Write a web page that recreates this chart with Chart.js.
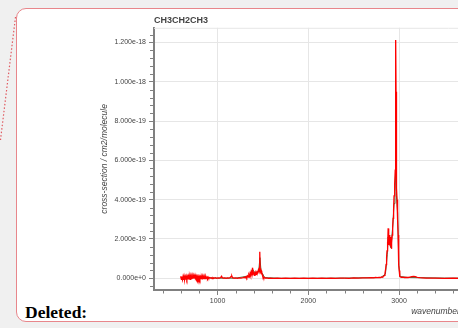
<!DOCTYPE html>
<html>
<head>
<meta charset="utf-8">
<script src="https://cdn.jsdelivr.net/npm/chart.js@4/dist/chart.umd.min.js"></script>
<style>
  html, body { margin: 0; padding: 0; width: 458px; height: 328px; overflow: hidden; background: #f0f0f0; }
  #card { position: absolute; left: 16px; top: 8px; width: 700px; height: 314px; box-sizing: border-box;
          border: 1.5px solid #e8868b; border-radius: 10px; background: #ffffff; }
  #dots { position: absolute; left: 0; top: 0; }
  #deleted { position: absolute; left: 25px; top: 304px; font: bold 17.5px "Liberation Serif", "Times New Roman", serif;
             line-height: 17.5px; color: #000; white-space: nowrap; }
  #wrap { position: absolute; left: 0; top: 0; width: 760px; height: 328px; }
</style>
</head>
<body>
<svg id="dots" width="20" height="150"><line x1="15.5" y1="17" x2="0.5" y2="140" stroke="#e05a61" stroke-width="1.2" stroke-dasharray="1.5,2"/></svg>
<div id="card"></div>
<div id="deleted">Deleted:</div>
<div id="wrap"><canvas id="c" width="760" height="328"></canvas></div>
<script>
// ---- data (cross-section values in units of 1e-20 cm2/molecule) ----
const TITLE = 'CH3CH2CH3';
const X_LABEL = 'wavenumber / cm-1';
const Y_LABEL = 'cross-section / cm2/molecule';
const Y_UNIT = 1e-20;

const wavenumbersRed = [
  590,596,602,608,614,620,626,632,638,644,650,656,662,668,674,680,686,692,698,704,
  710,716,722,728,734,740,746,752,758,764,770,776,782,788,794,800,806,812,818,824,
  830,836,842,848,854,860,866,872,878,884,890,896,902,910,920,930,940,950,960,975,
  990,1005,1020,1035,1045,1052,1065,1080,1095,1110,1125,1140,1150,1158,1165,1180,1200,1220,1240,1260,
  1280,1295,1305,1315,1322,1330,1337,1345,1352,1358,1364,1370,1376,1381,1385,1388,1392,1396,1400,1405,
  1410,1415,1420,1425,1430,1435,1440,1445,1450,1455,1460,1464,1467,1470,1474,1478,1482,1487,1492,1497,
  1502,1508,1515,1525,1540,1560,1580,1620,1660,1700,1750,1800,1850,1900,1950,2000,2050,2100,2150,2200,
  2250,2300,2350,2400,2450,2500,2550,2600,2650,2700,2720,2740,2760,2780,2795,2810,2820,2830,2838,2845,
  2852,2858,2863,2868,2872,2876,2880,2884,2888,2892,2896,2900,2904,2908,2912,2916,2920,2925,2930,2935,
  2940,2945,2950,2954,2958,2961,2963,2965,2967,2969,2972,2975,2978,2982,2986,2990,2994,2998,3002,3006,
  3010,3016,3025,3040,3060,3080,3100,3120,3140,3160,3180,3200,3230,3260,3300,3400,3500,3600,3700,3800,
  3900,4000,4100,4200,4300
];
const crossSectionRed = [
  0.3,1.0,-0.6,0.9,-0.7,0.8,-0.8,1.0,-0.5,0.8,-0.7,0.9,-0.4,0.8,-0.6,1.0,-0.3,0.8,-0.5,0.9,
  -0.1,1.0,0.1,1.1,0.2,1.3,0.6,1.7,0.6,1.3,0.1,1.0,-0.3,0.9,-0.3,0.8,-0.4,0.8,-0.1,0.7,
  -0.3,0.8,0.0,0.6,-0.2,0.7,-0.1,0.9,0.1,0.5,-0.1,0.6,0.1,0.4,0.1,0.3,-0.1,0.3,0.0,0.3,
  0.0,0.2,0.1,0.4,1.0,0.3,0.1,0.2,0.0,0.2,0.1,0.4,0.9,1.1,0.3,0.1,0.2,0.0,0.2,0.1,
  0.3,0.5,0.2,0.9,0.3,1.2,0.6,1.8,1.0,2.4,1.4,3.1,2.2,3.8,5.4,2.5,3.5,1.8,2.6,1.5,
  2.2,1.7,2.6,2.0,3.0,2.6,3.6,3.1,4.2,3.6,4.8,4.0,13.5,4.5,5.0,3.6,3.8,2.6,2.2,1.2,
  0.9,0.3,0.4,0.1,0.2,0.0,0.1,0.0,0.1,0.0,0.1,0.0,0.1,0.0,0.1,0.0,0.1,0.0,0.1,0.0,
  0.1,0.0,0.1,0.1,0.0,0.2,0.1,0.2,0.2,0.3,0.2,0.4,0.3,0.5,0.4,0.7,0.5,1.0,1.5,2.5,
  4.5,7.0,11.0,14.0,18.5,16.0,25.4,20.0,17.0,22.0,21.0,18.0,16.5,21.0,17.0,15.0,18.0,22.0,26.0,30.5,
  35.0,42.0,46.5,48.0,55.0,64.0,90.0,121.3,95.0,60.0,50.0,46.0,40.0,38.0,30.0,22.0,13.0,7.0,4.0,2.0,
  1.0,0.7,0.5,0.6,0.4,0.5,0.4,0.6,0.8,1.0,0.8,0.5,0.3,0.2,0.1,0.1,0.0,0.1,0.0,0.1,
  0.0,0.1,0.0,0.1,0.0
];

const wavenumbersGreen = [
  600,700,800,900,1000,1200,1350,1385,1420,1455,1467,1480,1520,1700,2000,2400,2800,2850,
  2870,2880,2895,2910,2930,2945,2955,2965,2972,2985,2998,3010,3100,3500,4000,4300
];
const crossSectionGreen = [
  0.3,0.4,0.3,0.2,0.1,0.1,1.2,4.6,2.3,4.0,10.5,3.5,0.3,0.0,0.0,0.1,0.4,2.2,
  12.0,21.0,18.0,15.5,26.0,38.0,44.0,58.0,42.0,33.0,6.5,0.9,0.4,0.1,0.0,0.0
];

// ---- axis settings ----
const X_MIN = 300, X_MAX = 6790;
const Y_MIN = -5.96e-20, Y_MAX = 1.275e-18;
const X_TICKS = [1000, 2000, 3000, 4000, 5000, 6000];
const X_MINOR = 200;
const Y_MAJOR = 2e-19, Y_MINOR = 4e-20;

const toPoints = (xs, ys) => xs.map((x, i) => ({ x: x, y: ys[i] * Y_UNIT }));

const AXIS_COLOR = '#808080';
const GRID_COLOR = '#e6e6e6';
const TEXT_COLOR = '#444444';
const FONT = '"Liberation Sans", Arial, Helvetica, sans-serif';

const minorTicks = {
  id: 'minorTicks',
  afterDraw(chart) {
    const { ctx, chartArea, scales } = chart;
    ctx.save();
    ctx.lineWidth = 1;
    ctx.beginPath();
    ctx.strokeStyle = GRID_COLOR;
    ctx.moveTo(chartArea.left, chartArea.top + 0.5);
    ctx.lineTo(chartArea.right, chartArea.top + 0.5);
    ctx.stroke();
    ctx.strokeStyle = AXIS_COLOR;
    ctx.beginPath();
    const ys = scales.y;
    for (let k = -1; k <= 40; k++) {
      if (k % 5 === 0) continue;
      const v = k * Y_MINOR;
      if (v < Y_MIN || v > Y_MAX) continue;
      const p = Math.round(ys.getPixelForValue(v)) + 0.5;
      ctx.moveTo(chartArea.left - 4, p);
      ctx.lineTo(chartArea.left, p);
    }
    const xs = scales.x;
    for (let k = 0; k <= 40; k++) {
      if (k % 5 === 0) continue;
      const v = k * X_MINOR;
      if (v < X_MIN || v > X_MAX) continue;
      const p = Math.round(xs.getPixelForValue(v)) + 0.5;
      ctx.moveTo(p, chartArea.bottom);
      ctx.lineTo(p, chartArea.bottom + 3.5);
    }
    ctx.stroke();
    ctx.restore();
  }
};

new Chart(document.getElementById('c'), {
  type: 'line',
  data: {
    datasets: [
      { label: 'red', data: toPoints(wavenumbersRed, crossSectionRed), borderColor: '#ff0000',
        borderWidth: 1.3, pointRadius: 0, tension: 0, fill: false },
      { label: 'green', data: toPoints(wavenumbersGreen, crossSectionGreen), borderColor: '#3c6e3c',
        borderWidth: 1, pointRadius: 0, tension: 0, fill: false }
    ]
  },
  options: {
    responsive: false,
    animation: false,
    events: [],
    layout: { padding: { left: 96, top: 0, right: 17, bottom: 0 } },
    plugins: {
      legend: { display: false },
      tooltip: { enabled: false },
      title: { display: true, text: TITLE, align: 'start', fullSize: false, color: TEXT_COLOR,
               font: { family: FONT, size: 9, weight: 'bold' }, padding: { top: 15, bottom: 2 } }
    },
    scales: {
      x: {
        type: 'linear', min: X_MIN, max: X_MAX,
        afterFit(s) { s.height = 38; },
        afterBuildTicks(s) { s.ticks = X_TICKS.map(v => ({ value: v })); },
        border: { display: true, color: AXIS_COLOR, width: 2 },
        grid: { color: GRID_COLOR, lineWidth: 1, drawTicks: true, tickLength: 5, tickColor: AXIS_COLOR },
        ticks: { color: TEXT_COLOR, padding: 2, maxRotation: 0, autoSkip: false,
                 font: { family: FONT, size: 7 }, callback: v => String(v) },
        title: { display: true, text: X_LABEL, color: TEXT_COLOR, padding: { top: 2, bottom: 11 },
                 font: { family: FONT, size: 8.5, style: 'italic' } }
      },
      y: {
        type: 'linear', min: Y_MIN, max: Y_MAX,
        afterFit(s) { s.width = 58; },
        border: { display: true, color: AXIS_COLOR, width: 2 },
        grid: { color: GRID_COLOR, lineWidth: 1, drawTicks: true, tickLength: 5, tickColor: AXIS_COLOR },
        ticks: { stepSize: Y_MAJOR, includeBounds: false, color: TEXT_COLOR, padding: 3, autoSkip: false,
                 font: { family: FONT, size: 7 }, callback: v => Number(v).toExponential(3) },
        title: { display: true, text: Y_LABEL, color: TEXT_COLOR, padding: { top: 4, bottom: 4 },
                 font: { family: FONT, size: 8.5, style: 'italic' } }
      }
    }
  },
  plugins: [minorTicks]
});
</script>
</body>
</html>
